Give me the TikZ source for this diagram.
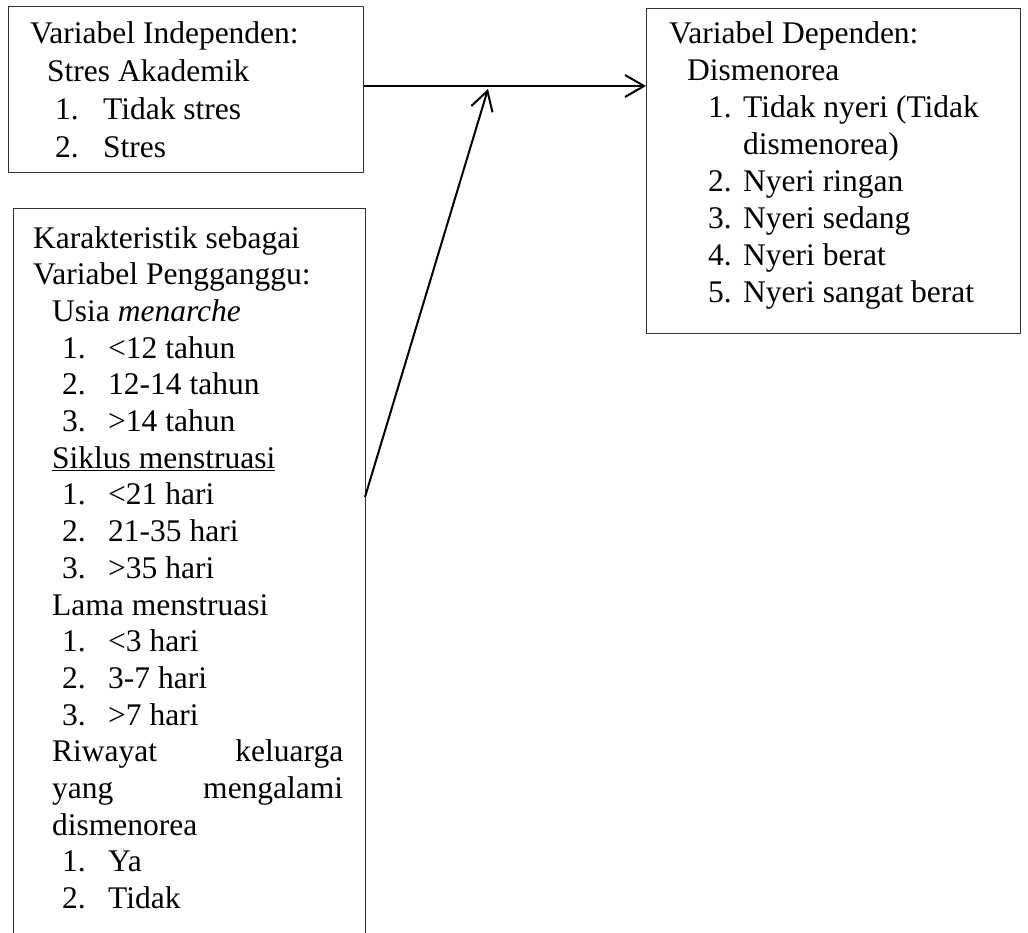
\documentclass[tikz,border=0pt]{standalone}
\usepackage{fontspec}
\setmainfont{Liberation Serif}
\usetikzlibrary{arrows.meta,positioning}

\newcommand{\itemrow}[3][46pt]{\makebox[#1][l]{#2}#3}

\tikzset{
  box/.style={draw=black!80, line width=1pt, inner sep=0pt},
  txt/.style={anchor=base west, inner sep=0pt, font=\fontsize{31.5}{37}\selectfont},
  link/.style={line width=2pt, -{Straight Barb[length=19pt,width=22pt,line width=2pt]}}
}

\begin{document}
\begin{tikzpicture}[x=1pt,y=-1pt]
\useasboundingbox (0,0) rectangle (1028,932);
% boxes
\node[box, minimum width=355pt, minimum height=166pt, anchor=north west] (indep) at (8,6) {};
\node[box, minimum width=374pt, minimum height=325pt, anchor=north west] (dep) at (646,8) {};
\node[inner sep=0pt, minimum width=352pt, minimum height=730pt, anchor=north west] (conf) at (13,208) {};
\draw[black!80, line width=1pt] (conf.south west) -- (conf.north west) -- (conf.north east) -- (conf.south east);

% independent variable
\foreach \x/\t [count=\i from 0] in {30/{Variabel Independen:}, 47/{Stres Akademik},
    55/{\itemrow[48pt]{1.}{Tidak stres}}, 55/{\itemrow[48pt]{2.}{Stres}}}
  \node[txt] (indep-\i) at (\x,43+38*\i) {\t};

% dependent variable
\foreach \x/\t [count=\i from 0] in {669/{Variabel Dependen:}, 687/{Dismenorea},
    708/{\itemrow[35pt]{1.}{Tidak nyeri (Tidak}}, 743/{dismenorea)},
    708/{\itemrow[35pt]{2.}{Nyeri ringan}}, 708/{\itemrow[35pt]{3.}{Nyeri sedang}},
    708/{\itemrow[35pt]{4.}{Nyeri berat}}, 708/{\itemrow[35pt]{5.}{Nyeri sangat berat}}}
  \node[txt] (dep-\i) at (\x,43+37*\i) {\t};

% confounding variables
\foreach \x/\t [count=\i from 0] in {33/{Karakteristik sebagai}, 33/{Variabel Pengganggu:},
    52/{Usia \textit{menarche}},
    62/{\itemrow{1.}{<12 tahun}}, 62/{\itemrow{2.}{12-14 tahun}}, 62/{\itemrow{3.}{>14 tahun}},
    52/{\underline{Siklus menstruasi}},
    62/{\itemrow{1.}{<21 hari}}, 62/{\itemrow{2.}{21-35 hari}}, 62/{\itemrow{3.}{>35 hari}},
    52/{Lama menstruasi},
    62/{\itemrow{1.}{<3 hari}}, 62/{\itemrow{2.}{3-7 hari}}, 62/{\itemrow{3.}{>7 hari}},
    52/{\makebox[291pt][s]{Riwayat keluarga}}, 52/{\makebox[291pt][s]{yang mengalami}},
    52/{dismenorea},
    62/{\itemrow{1.}{Ya}}, 62/{\itemrow{2.}{Tidak}}}
  \node[txt] (conf-\i) at (\x,248+36.7*\i) {\t};

% connectors
\coordinate (meet) at (488,89);
\coordinate (start) at (365,497);
\draw[link] (indep.east |- 0,86) -- (dep.west |- 0,86);
\draw[link] (start) -- (meet);
\end{tikzpicture}
\end{document}
